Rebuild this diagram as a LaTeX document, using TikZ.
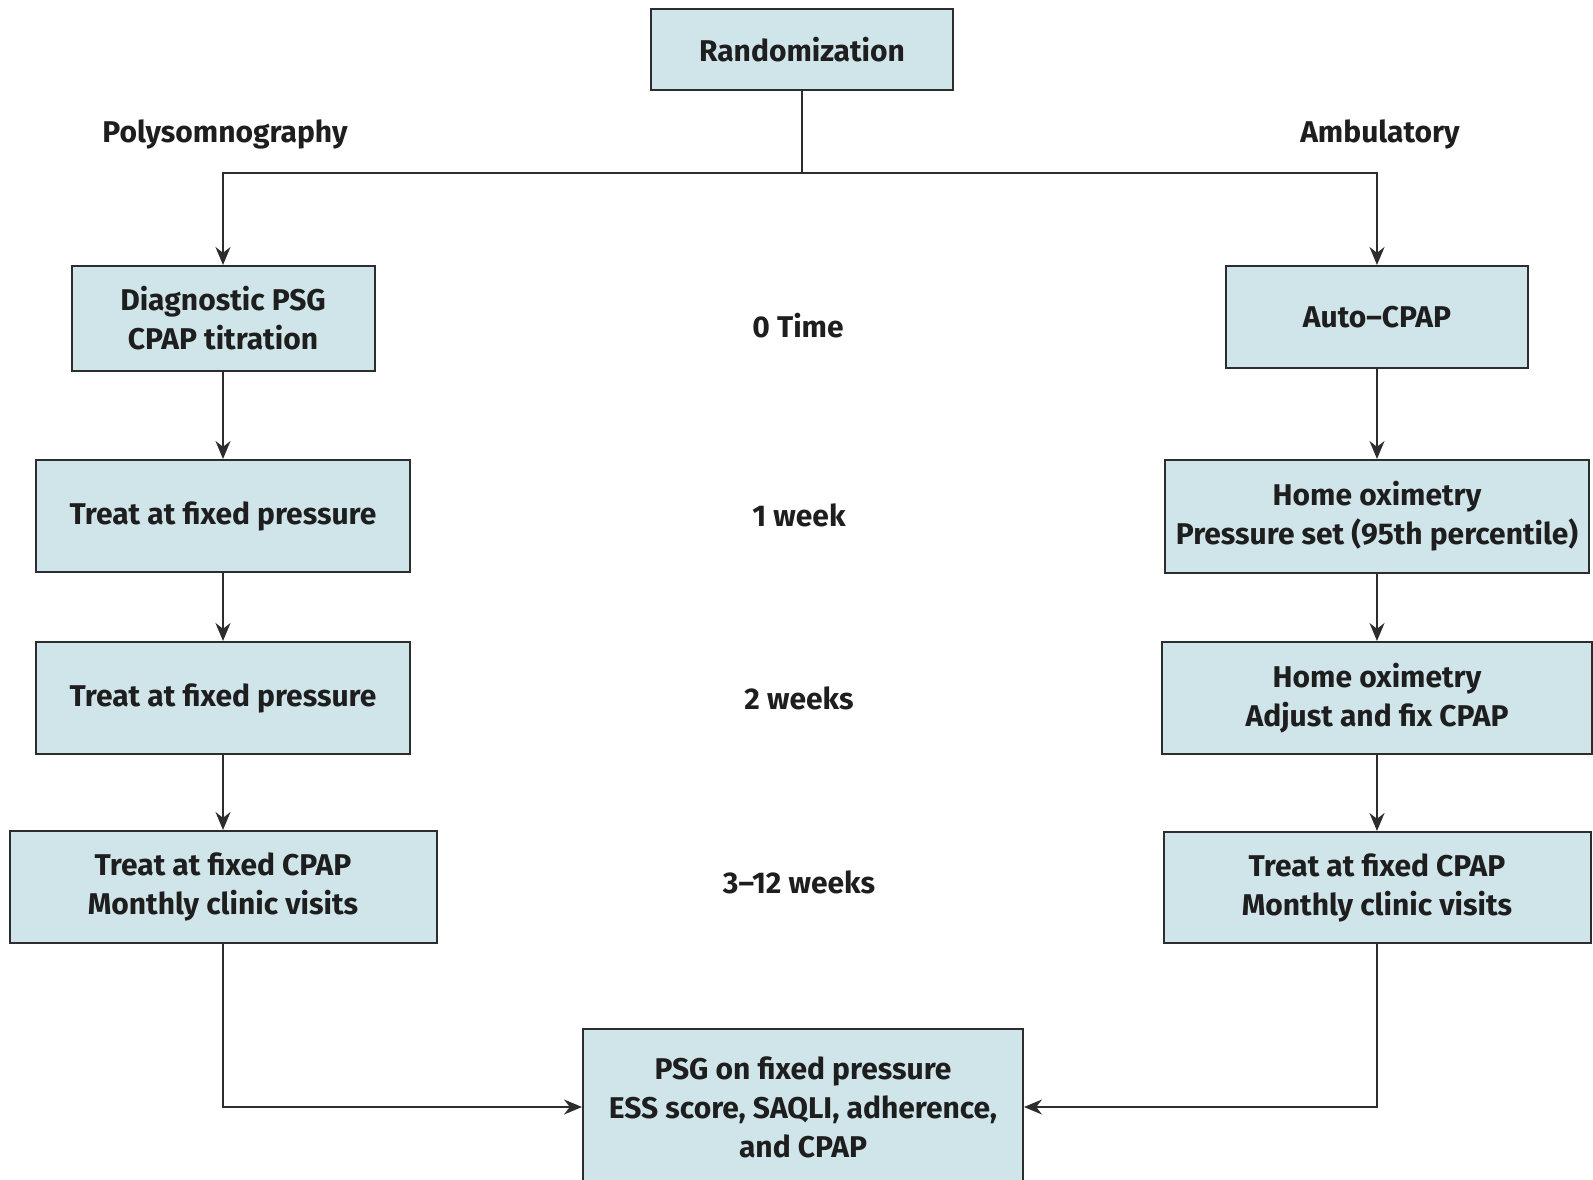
\documentclass[tikz,border=0pt]{standalone}
\usepackage{fontspec}
\setmainfont{Fira Sans}
\usetikzlibrary{arrows.meta}
\definecolor{boxfill}{RGB}{208,229,234}
\definecolor{lineclr}{RGB}{45,45,45}
\definecolor{txt}{RGB}{30,30,30}
\tikzset{
  box/.style={draw=lineclr, line width=2pt, fill=boxfill, align=center, inner sep=0pt,
    font=\fontsize{30}{39}\selectfont\bfseries, text=txt},
  lbl/.style={font=\fontsize{30}{39}\selectfont\bfseries, text=txt, inner sep=0pt},
  arr/.style={draw=lineclr, line width=2pt, -{Stealth[length=18pt,width=15pt]}},
  ln/.style={draw=lineclr, line width=2pt}
}
\begin{document}
\begin{tikzpicture}[x=1pt,y=-1pt]
\useasboundingbox (0,0) rectangle (1593,1180);
\node[box, minimum width=302pt, minimum height=81pt] (rand) at (802,49.5) {Randomization};
\node[box, minimum width=303pt, minimum height=105pt] (diag) at (223,318.5) {Diagnostic PSG\\CPAP titration};
\node[box, minimum width=302pt, minimum height=102pt] (auto) at (1377,317) {Auto{\char"2013}CPAP};
\node[box, minimum width=374pt, minimum height=112pt] (l1) at (223,516) {Treat at fixed pressure};
\node[box, minimum width=424pt, minimum height=113pt] (r1) at (1377,516.5) {Home oximetry\\Pressure set (95th percentile)};
\node[box, minimum width=374pt, minimum height=112pt] (l2) at (223,698) {Treat at fixed pressure};
\node[box, minimum width=430pt, minimum height=112pt] (r2) at (1377,698) {Home oximetry\\Adjust and fix CPAP};
\node[box, minimum width=427pt, minimum height=112pt] (l3) at (223,887) {Treat at fixed CPAP\\Monthly clinic visits};
\node[box, minimum width=427pt, minimum height=111pt] (r3) at (1377,887.5) {Treat at fixed CPAP\\Monthly clinic visits};
\node[box, minimum width=440pt, minimum height=156pt] (bot) at (803,1107) {PSG on fixed pressure\\ESS score, SAQLI, adherence,\\and CPAP};
\node[lbl] (poly) at (225,134) {Polysomnography};
\node[lbl] (amb) at (1380,134) {Ambulatory};
\node[lbl] (t0) at (798,326) {0 Time};
\node[lbl] (t1) at (799,515) {1 week};
\node[lbl] (t2) at (799,698) {2 weeks};
\node[lbl] (t3) at (799,882) {3--12 weeks};
\coordinate (j) at (802,173);
\draw[ln] (rand.south) -- (j);
\draw[arr] (j) -| (diag.north);
\draw[arr] (j) -| (auto.north);
\draw[arr] (diag.south) -- (l1.north);
\draw[arr] (l1.south) -- (l2.north);
\draw[arr] (l2.south) -- (l3.north);
\draw[arr] (auto.south) -- (r1.north);
\draw[arr] (r1.south) -- (r2.north);
\draw[arr] (r2.south) -- (r3.north);
\draw[arr] (l3.south) |- (bot.west);
\draw[arr] (r3.south) |- (bot.east);
\end{tikzpicture}
\end{document}
